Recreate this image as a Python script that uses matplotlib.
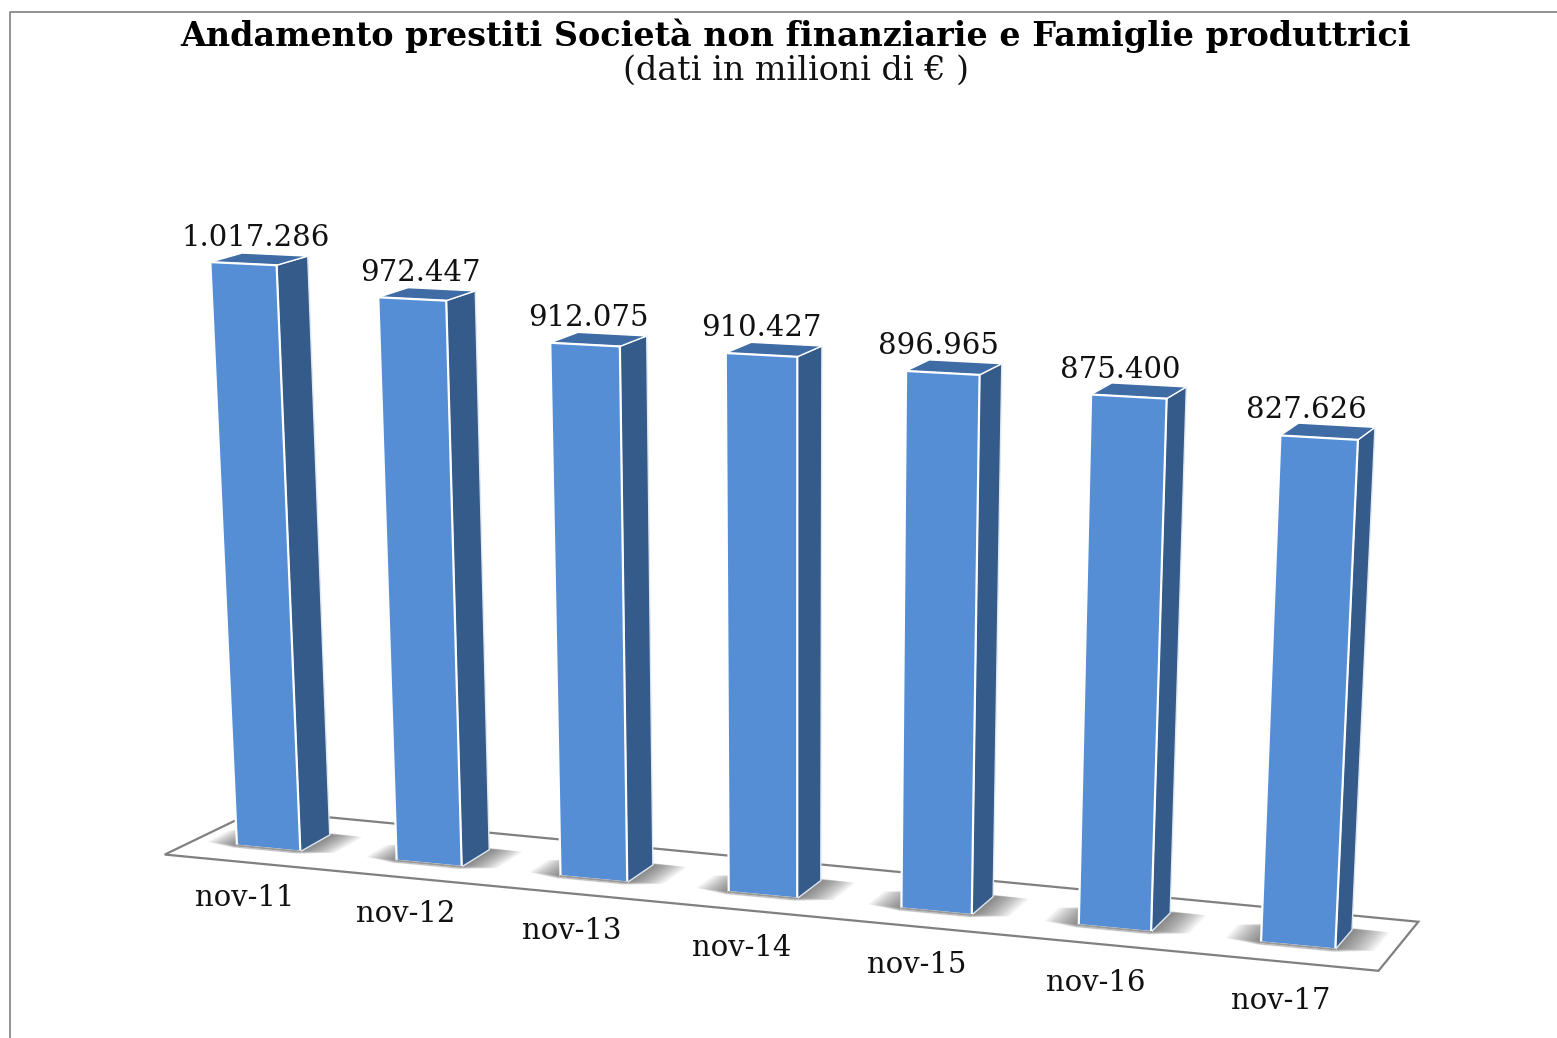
import matplotlib
matplotlib.use('Agg')
import matplotlib.pyplot as plt
from matplotlib.patches import Polygon
import numpy as np

# data
months = ['nov-11', 'nov-12', 'nov-13', 'nov-14', 'nov-15', 'nov-16', 'nov-17']
values = [1017286, 972447, 912075, 910427, 896965, 875400, 827626]
value_labels = ['1.017.286', '972.447', '912.075', '910.427', '896.965', '875.400', '827.626']

title = 'Andamento prestiti Società non finanziarie e Famiglie produttrici'
subtitle = '(dati in milioni di € )'

# colours
front_col = '#558ed5'
side_col = '#355b8b'
top_col = '#3f6ca5'
floor_col = '#808080'

bar_w = 0.4

# camera anchors: (category, depth, value) seen at pixel (x, y)
world_pts = [
    (-0.2, 0, 0), (0.2, 0, 0), (0.2, 1, 0),
    (-0.2, 0, values[0]), (0.2, 0, values[0]), (0.2, 1, values[0]),
    (2.8, 0, 0), (3.2, 0, 0), (3.2, 1, 0),
    (2.8, 0, values[3]), (3.2, 0, values[3]), (3.2, 1, values[3]),
    (5.8, 0, 0), (6.2, 0, 0), (6.2, 1, 0),
    (5.8, 0, values[6]), (6.2, 0, values[6]), (6.2, 1, values[6]),
]
pixel_pts = [
    (236, 845), (301, 852), (330, 835),
    (211, 262), (277, 265), (307, 256),
    (729, 893), (797, 899), (821, 880),
    (727, 353), (796, 356), (821, 347),
    (1260, 943), (1335, 949), (1353, 929),
    (1281, 436), (1358, 439), (1375, 428),
]

# fit the projective camera
rows, rhs = [], []
for (u, d, v), (px, py) in zip(world_pts, pixel_pts):
    v = v / 1e6
    rows.append([u, d, v, 1, 0, 0, 0, 0, -px * u, -px * d, -px * v])
    rows.append([0, 0, 0, 0, u, d, v, 1, -py * u, -py * d, -py * v])
    rhs += [px, py]
cam = np.linalg.lstsq(np.array(rows, float), np.array(rhs, float), rcond=None)[0]
cam = np.append(cam, 1.0).reshape(3, 4)


def project(u, d, v):
    p = cam @ np.array([u, d, v / 1e6, 1.0])
    return p[0] / p[2], p[1] / p[2]


fig = plt.figure(figsize=(15.57, 10.38), dpi=100)
ax = fig.add_axes([0, 0, 1, 1])
ax.set_xlim(0, 1557)
ax.set_ylim(1038, 0)
ax.axis('off')

# chart border
ax.plot([10, 10, 1557], [1038, 12, 12], color='#8a8a8a', lw=1.3, zorder=1)

# floor
floor = [project(-0.5, -0.8, 0), project(6.5, -0.8, 0), project(6.5, 1.7, 0), project(-0.45, 1.95, 0)]
ax.add_patch(Polygon(floor, closed=True, fc='white', ec=floor_col, lw=1.6, zorder=2))

# bars, with a soft shadow on the floor
n_layers = 30
for i, (val, lab, month) in enumerate(zip(values, value_labels, months)):
    l, r = i - bar_w / 2, i + bar_w / 2
    for k in range(n_layers):
        g = 1 - k / n_layers
        shadow = [project(l - 0.2 * g, 0.05, 0), project(l, -0.13 * g, 0), project(r, -0.13 * g, 0),
                  project(r + 0.2 * g, 0.1, 0), project(r + 0.2 * g, 1.05, 0),
                  project(r, 1.0 + 0.1 * g, 0), project(l, 1.0, 0), project(l - 0.2 * g, 0.75, 0)]
        ax.add_patch(Polygon(shadow, closed=True, fc='#404040', ec='none', alpha=0.028, zorder=3))

    front = [project(l, 0, 0), project(r, 0, 0), project(r, 0, val), project(l, 0, val)]
    side = [project(r, 0, 0), project(r, 1, 0), project(r, 1, val), project(r, 0, val)]
    top = [project(l, 0, val), project(r, 0, val), project(r, 1, val), project(l, 1, val)]
    ax.add_patch(Polygon(side, closed=True, fc=side_col, ec='#dfe7f2', lw=1.0, zorder=4))
    ax.add_patch(Polygon(top, closed=True, fc=top_col, ec='white', lw=1.0, zorder=4))
    ax.add_patch(Polygon(front, closed=True, fc=front_col, ec='white', lw=1.6, zorder=5))
    xb, yb = zip(project(l, 0, 0), project(r, 0, 0))
    ax.plot(xb, yb, color='#9a9a9a', lw=1.4, zorder=5)

    x, y = project(i, 0.5, val)
    ax.text(x - 4 - 3 * i, y - 21, lab, ha='center', va='center', fontsize=21,
            family='DejaVu Serif', color='#111111', zorder=6)
    x, y = project(i, -1.9, 0)
    ax.text(x + 35 - 3 * i, y + 17, month, ha='center', va='center', fontsize=21,
            family='DejaVu Serif', color='#111111', zorder=6)

# titles
ax.text(796, 36, title, ha='center', va='center', fontsize=24, fontweight='bold',
        family='DejaVu Serif', color='black')
ax.text(796, 71, subtitle, ha='center', va='center', fontsize=24,
        family='DejaVu Serif', color='#111111')

fig.savefig('out.png', dpi=100)
